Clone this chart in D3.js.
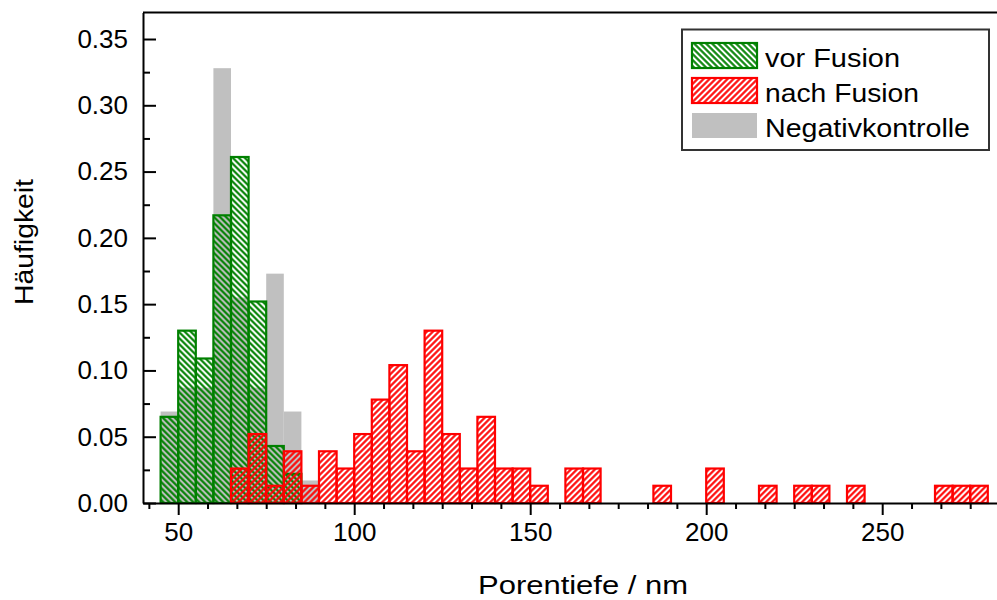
<!DOCTYPE html>
<html>
<head>
<meta charset="utf-8">
<script src="https://cdn.jsdelivr.net/npm/d3@7/dist/d3.min.js"></script>
<style>
  html, body { margin: 0; padding: 0; background: #fff; }
  svg { display: block; }
  text { font-family: "Liberation Sans", Arial, sans-serif; fill: #000; }
</style>
</head>
<body>
<svg id="chart" width="997" height="600"></svg>
<script>
// Histogram bins (left edge, nm) and relative frequencies
const binWidth = 5;

const negBins = [45, 50, 55, 60, 65, 70, 75, 80, 85];
const negFreq = [0.069, 0.087, 0.087, 0.328, 0.155, 0.087, 0.173, 0.069, 0.017];

const vorBins = [45, 50, 55, 60, 65, 70, 75, 80];
const vorFreq = [0.065, 0.130, 0.109, 0.217, 0.261, 0.152, 0.043, 0.022];

const nachBins = [65, 70, 75, 80, 85, 90, 95, 100, 105, 110, 115, 120, 125, 130, 135,
                  140, 145, 150, 160, 165, 185, 200, 215, 225, 230, 240, 265, 270, 275];
const nachFreq = [0.026, 0.052, 0.013, 0.039, 0.013, 0.039, 0.026, 0.052, 0.078, 0.104,
                  0.039, 0.130, 0.052, 0.026, 0.065, 0.026, 0.026, 0.013, 0.026, 0.026,
                  0.013, 0.026, 0.013, 0.013, 0.013, 0.013, 0.013, 0.013, 0.013];

const xMajorTicks = [50, 100, 150, 200, 250];
const yMajorTicks = [0, 0.05, 0.10, 0.15, 0.20, 0.25, 0.30, 0.35];
const legendLabels = ["vor Fusion", "nach Fusion", "Negativkontrolle"];

const xDomain = [40, 285];
const yDomain = [0, 0.37];

const svg = d3.select("#chart");
const plotLeft = 143, plotTop = 12.5, plotBottom = 503;
const x = d3.scaleLinear().domain(xDomain).range([plotLeft, plotLeft + (xDomain[1] - xDomain[0]) * 3.52]);
const y = d3.scaleLinear().domain(yDomain).range([plotBottom, plotTop]);

// hatch fills
const defs = svg.append("defs");
function hatch(id, color, angle) {
  const p = defs.append("pattern")
    .attr("id", id)
    .attr("patternUnits", "userSpaceOnUse")
    .attr("width", 4.24).attr("height", 4.24)
    .attr("patternTransform", `rotate(${angle})`);
  p.append("line")
    .attr("x1", 2.12).attr("y1", -1).attr("x2", 2.12).attr("y2", 5.5)
    .attr("stroke", color).attr("stroke-width", 2.1);
}
hatch("hatchVor", "#008000", -45);
hatch("hatchNach", "#ff0000", 45);

const zip = (bins, vals) => bins.map((b, i) => ({ x0: b, x1: b + binWidth, v: vals[i] }));

// Negativkontrolle: solid grey
svg.append("g").selectAll("rect").data(zip(negBins, negFreq)).join("rect")
  .attr("x", d => x(d.x0)).attr("width", d => x(d.x1) - x(d.x0))
  .attr("y", d => y(d.v)).attr("height", d => y(0) - y(d.v))
  .attr("fill", "#c0c0c0");

// vor Fusion: green hatch with outline
svg.append("g").selectAll("rect").data(zip(vorBins, vorFreq)).join("rect")
  .attr("x", d => x(d.x0)).attr("width", d => x(d.x1) - x(d.x0))
  .attr("y", d => y(d.v)).attr("height", d => y(0) - y(d.v))
  .attr("fill", "url(#hatchVor)")
  .attr("stroke", "#008000").attr("stroke-width", 2.2);

// nach Fusion: red hatch with outline
svg.append("g").selectAll("rect").data(zip(nachBins, nachFreq)).join("rect")
  .attr("x", d => x(d.x0)).attr("width", d => x(d.x1) - x(d.x0))
  .attr("y", d => y(d.v)).attr("height", d => y(0) - y(d.v))
  .attr("fill", "url(#hatchNach)")
  .attr("stroke", "#ff0000").attr("stroke-width", 2.2);

// axes
const xMinor = d3.range(-1, 29).map(k => 50 + k * 50 / 6)
  .filter(v => v > xDomain[0] && v < xDomain[1] && xMajorTicks.every(m => Math.abs(m - v) > 1e-6));
const yMinor = d3.range(0.025, 0.37, 0.05);

const fontSize = 26;

svg.append("g").attr("transform", `translate(0,${plotBottom})`)
  .call(d3.axisBottom(x).tickValues(xMajorTicks).tickFormat(d3.format("d"))
    .tickSize(12).tickSizeOuter(0).tickPadding(8));
svg.append("g").attr("transform", `translate(0,${plotBottom})`)
  .call(d3.axisBottom(x).tickValues(xMinor).tickFormat("").tickSize(6).tickSizeOuter(0))
  .select(".domain").remove();

svg.append("g").attr("transform", `translate(${plotLeft},0)`)
  .call(d3.axisLeft(y).tickValues(yMajorTicks).tickFormat(d3.format(".2f"))
    .tickSize(-13).tickSizeOuter(0).tickPadding(15));
svg.append("g").attr("transform", `translate(${plotLeft},0)`)
  .call(d3.axisLeft(y).tickValues(yMinor).tickFormat("").tickSize(-7).tickSizeOuter(0))
  .select(".domain").remove();

svg.selectAll(".tick line").attr("stroke", "#000").attr("stroke-width", 2);
svg.selectAll(".domain").attr("stroke", "#000").attr("stroke-width", 2);
svg.selectAll(".tick text").attr("font-size", fontSize)
  .attr("font-family", "'Liberation Sans', Arial, sans-serif").attr("fill", "#000");

// top frame line
svg.append("line")
  .attr("x1", plotLeft).attr("x2", x(xDomain[1]))
  .attr("y1", y(yDomain[1])).attr("y2", y(yDomain[1]))
  .attr("stroke", "#000").attr("stroke-width", 2);

// axis titles (slightly wide lettering)
svg.append("text")
  .attr("x", 478).attr("y", 594)
  .attr("font-size", 26)
  .attr("textLength", 210).attr("lengthAdjust", "spacingAndGlyphs")
  .text("Porentiefe / nm");
svg.append("text")
  .attr("transform", `translate(33,305) rotate(-90)`)
  .attr("font-size", 26)
  .attr("textLength", 126).attr("lengthAdjust", "spacingAndGlyphs")
  .text("Häufigkeit");

// legend
const lg = svg.append("g");
lg.append("rect")
  .attr("x", 682).attr("y", 29.5).attr("width", 307).attr("height", 120.5)
  .attr("fill", "#fff").attr("stroke", "#333").attr("stroke-width", 2);
const swatches = [
  { fill: "url(#hatchVor)", stroke: "#008000" },
  { fill: "url(#hatchNach)", stroke: "#ff0000" },
  { fill: "#c0c0c0", stroke: "none" }
];
const legendWidths = [135, 154, 205];
legendLabels.forEach((label, i) => {
  const yy = 43 + i * 35;
  lg.append("rect")
    .attr("x", 692).attr("y", yy).attr("width", 65).attr("height", 25)
    .attr("fill", swatches[i].fill).attr("stroke", swatches[i].stroke)
    .attr("stroke-width", 2.2);
  lg.append("text")
    .attr("x", 765).attr("y", yy + 23.5)
    .attr("font-size", 26)
    .attr("textLength", legendWidths[i]).attr("lengthAdjust", "spacingAndGlyphs")
    .text(label);
});
</script>
</body>
</html>
